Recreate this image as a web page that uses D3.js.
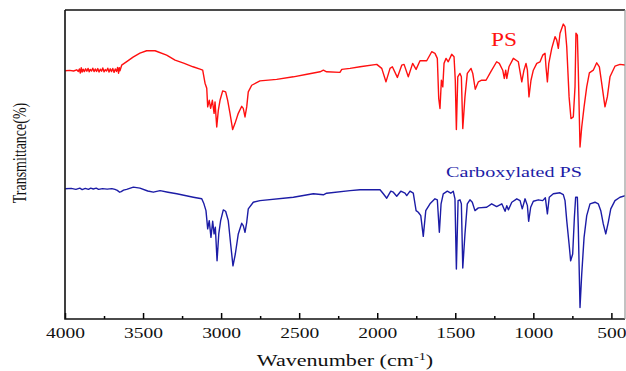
<!DOCTYPE html>
<html>
<head>
<meta charset="utf-8">
<script src="https://cdn.jsdelivr.net/npm/d3@7"></script>
<style>
  body { margin: 0; background: #fff; }
  svg { display: block; }
</style>
</head>
<body>
<div id="ftir-chart"></div>
<script>
// spectra: [wavenumber (cm-1), transmittance (a.u.)]
const psSpectrum = [
  [3998,123.7],[3970,123.9],[3945,123.6],[3925,124.2],[3915,123.4],[3908,124.6],[3902,122.6],[3896,125.2],
  [3890,123.1],[3884,124.5],[3876,123.3],[3868,124.7],[3860,123.5],[3852,124.9],[3845,123.2],[3838,124.4],
  [3830,123.6],[3822,125],[3814,123.3],[3806,124.6],[3798,123.4],[3790,124.8],[3782,123.1],[3774,124.5],
  [3766,123.5],[3758,125.1],[3750,123.2],[3742,124.3],[3734,123.6],[3726,125],[3718,123.1],[3710,124.7],
  [3702,123.3],[3694,124.9],[3686,122.9],[3678,124.6],[3670,123.4],[3663,125.4],[3657,122.5],[3652,125.3],
  [3648,123.7],[3637,126.5],[3600,128.5],[3564,130.5],[3520,132.5],[3477,133.7],[3423,133.7],[3349,131.5],
  [3295,129],[3240,127.5],[3180,125.7],[3135,124.5],[3118,124],[3103,117.5],[3092,115],[3086,105.7],
  [3076,109],[3067,105],[3056,109],[3045,102.5],[3039,108.2],[3028,95.7],[3018,104],[3007,109],
  [2990,113.7],[2971,113.2],[2958,109],[2943,102.5],[2926,94.4],[2911,97.5],[2890,102.5],[2868,106],
  [2858,105],[2847,100.7],[2836,105.7],[2826,113.2],[2804,116.5],[2751,118.7],[2644,119.4],[2537,120.7],
  [2450,122],[2366,123.2],[2345,124],[2324,123.2],[2239,122.9],[2227,124.4],[2174,124.9],[2110,125.7],
  [2003,126.9],[1971,124.9],[1944,118.2],[1918,124.9],[1903,125.7],[1871,120.4],[1843,126.5],[1828,126.9],
  [1801,120.7],[1773,127.4],[1751,124.4],[1726,128.7],[1683,128.7],[1651,133.2],[1630,132.4],[1615,129.9],
  [1606,109.9],[1598,104.9],[1589,119],[1580,115.7],[1572,127.4],[1559,129.9],[1545,128.2],[1523,131.9],
  [1508,130.7],[1500,119],[1493,94.4],[1484,120.7],[1470,122.4],[1461,120.7],[1452,94.9],[1438,110.7],
  [1423,122.4],[1399,124.9],[1388,122.4],[1372,114.5],[1352,118.2],[1331,119],[1303,119],[1273,123.2],
  [1235,128.2],[1218,127.4],[1196,124],[1186,119.9],[1177,124],[1170,119.9],[1156,125.7],[1128,129.9],
  [1096,128.2],[1074,118.2],[1060,124],[1047,127.4],[1038,124],[1028,110.7],[1015,119],[1000,124],
  [978,127.4],[957,128.2],[940,131.5],[925,132.4],[919,125.7],[910,118.2],[901,127.4],[882,134.9],
  [861,140.7],[850,139],[840,134.9],[829,142.4],[808,147],[797,145.7],[786,135.7],[771,110.7],
  [759,99.9],[744,100.7],[733,115.7],[727,142.4],[718,141.5],[712,124],[701,85.7],[690,95.7],
  [675,105.7],[658,115.7],[641,122.7],[616,124],[594,127.7],[577,125.7],[562,117.4],[541,105.7],
  [526,110.7],[509,120.7],[477,126],[445,126.9],[408,126.5]
]

const carboxylatedSpectrum = [
  [3998,64.9],[3960,65.1],[3930,64.6],[3905,65.2],[3890,64.5],[3870,65.1],[3850,64.6],[3835,65.2],
  [3819,64.8],[3800,65.2],[3785,64.6],[3760,65],[3730,64.7],[3700,65],[3680,64.6],[3665,64.1],
  [3650,63.2],[3640,63.5],[3625,64.2],[3605,64.6],[3562,65.7],[3520,65.2],[3470,63.8],[3434,63.2],
  [3391,64],[3340,63.2],[3284,62.4],[3178,60.7],[3124,59.9],
  [3110,57.4],[3097,54],[3086,44.9],[3076,49],[3065,40.7],[3054,48.7],[3045,42.4],[3037,45.7],
  [3026,29],[3015,42.4],[3003,49],[2986,54.4],[2971,53.7],[2954,49],[2939,37.4],[2924,26.5],
  [2909,32.4],[2890,42.4],[2868,47.7],[2858,46.5],[2847,43.2],[2836,48.2],[2826,54.9],[2794,58.2],
  [2751,59],[2537,60.7],[2409,62.4],[2345,61.9],[2324,62.7],[2174,64],[2110,64.4],[1982,64.4],
  [1961,62.4],[1939,60.2],[1913,63.7],[1897,63.2],[1875,61.2],[1849,63.7],[1822,62.7],[1811,61.5],
  [1790,63.7],[1769,62.7],[1751,54],[1737,53.2],[1721,51.5],[1705,41.2],[1689,54],[1662,57.4],
  [1630,59.9],[1615,59.4],[1602,43.2],[1591,57.4],[1577,62.4],[1551,63.7],[1529,62.7],[1513,63.7],
  [1502,59.9],[1493,24.9],[1482,59],[1470,59.4],[1461,57.4],[1452,25.4],[1438,42.4],[1423,57.4],
  [1406,59.4],[1391,58.2],[1374,54],[1352,55.4],[1299,55.7],[1267,57.4],[1235,56],[1202,57.4],
  [1181,53.7],[1170,56.5],[1160,54.4],[1138,58.2],[1106,59.9],[1085,59],[1071,54.9],[1053,59.9],
  [1038,56.5],[1030,48.7],[1017,55.7],[1000,58.7],[968,59.4],[940,59],[923,60.4],[910,52.4],
  [898,60.7],[872,62.4],[829,62.9],[808,62],[797,59],[786,49],[771,37.4],[761,29],
  [748,32.4],[737,50.7],[729,60.7],[718,60.7],[712,45.7],[701,5.7],[690,22.4],[675,40.7],
  [658,51.5],[637,57.4],[605,58.2],[584,57.4],[568,54],[552,47.4],[536,42.4],[520,48.2],
  [504,54.9],[477,59],[445,60.7],[408,61.5]
]

const majorTicks = [4000, 3500, 3000, 2500, 2000, 1500, 1000, 500]
const minorTicks = [3750, 3250, 2750, 2250, 1750, 1250, 750]
const seriesNames = ["PS", "Carboxylated PS"]

const width = 626
const height = 371
const plotLeft = 65, plotRight = 627, plotTop = 10, plotBottom = 319
const frameRight = 625
const stretch = 1.3   // the reference text is drawn wide
const serif = "'Liberation Serif', 'Times New Roman', serif"
const psColor = "#ff1010"
const cpsColor = "#1c1ca6"

const svg = d3.select("#ftir-chart")
  .append("svg")
  .attr("width", width)
  .attr("height", height)

const xScale = d3.scaleLinear()
  .domain([4000, 400])
  .range([plotLeft, plotRight])

const yScale = d3.scaleLinear()
  .domain([0, 154])
  .range([plotBottom, plotTop])

svg.append("clipPath")
  .attr("id", "plot-clip")
  .append("rect")
  .attr("x", plotLeft)
  .attr("y", plotTop)
  .attr("width", frameRight - plotLeft)
  .attr("height", plotBottom - plotTop)

const line = d3.line()
  .x(d => xScale(d[0]))
  .y(d => yScale(d[1]))

svg.append("path")
  .datum(psSpectrum)
  .attr("clip-path", "url(#plot-clip)")
  .attr("fill", "none")
  .attr("stroke", psColor)
  .attr("stroke-width", 1.4)
  .attr("stroke-linejoin", "round")
  .attr("d", line)

svg.append("path")
  .datum(carboxylatedSpectrum)
  .attr("clip-path", "url(#plot-clip)")
  .attr("fill", "none")
  .attr("stroke", cpsColor)
  .attr("stroke-width", 1.4)
  .attr("stroke-linejoin", "round")
  .attr("d", line)

// minor ticks, pointing in
svg.append("g")
  .attr("transform", `translate(0, ${plotBottom})`)
  .call(d3.axisBottom(xScale).tickValues(minorTicks).tickSize(-3).tickFormat(""))
  .call(g => g.select(".domain").remove())
  .call(g => g.selectAll("line").attr("stroke", "#000").attr("stroke-width", 1.5))

const xAxis = svg.append("g")
  .attr("transform", `translate(0, ${plotBottom})`)
  .call(d3.axisBottom(xScale).tickValues(majorTicks).tickSize(-6).tickPadding(8.5).tickFormat(d3.format("d")))
  .call(g => g.select(".domain").remove())

xAxis.selectAll("line").attr("stroke", "#000").attr("stroke-width", 1.5)
xAxis.selectAll("text")
  .attr("fill", "#111")
  .attr("font-family", serif)
  .attr("font-size", 15)
  .attr("transform", `scale(${stretch}, 1)`)

// frame
svg.append("path")
  .attr("d", `M${plotLeft},${plotTop}H${frameRight}M${plotLeft},${plotTop}V${plotBottom}H${frameRight}`)
  .attr("fill", "none")
  .attr("stroke", "#111")
  .attr("stroke-width", 1.6)
svg.append("line")
  .attr("x1", frameRight).attr("x2", frameRight)
  .attr("y1", plotTop).attr("y2", plotBottom)
  .attr("stroke", "#999")
  .attr("stroke-width", 1.2)

// axis titles
const xTitle = svg.append("text")
  .attr("transform", `translate(345, 366) scale(${stretch}, 1)`)
  .attr("text-anchor", "middle")
  .attr("font-family", serif)
  .attr("font-size", 17)
  .attr("fill", "#111")
xTitle.append("tspan").text("Wavenumber (cm")
xTitle.append("tspan").attr("dy", -6).attr("font-size", 11).text("-1")
xTitle.append("tspan").attr("dy", 6).text(")")

svg.append("text")
  .attr("transform", `translate(26, 153) rotate(-90) scale(1, ${stretch})`)
  .attr("text-anchor", "middle")
  .attr("font-family", serif)
  .attr("font-size", 14)
  .attr("fill", "#111")
  .text("Transmittance(%)")

// series labels
svg.append("text")
  .attr("transform", `translate(504, 46) scale(${stretch}, 1)`)
  .attr("text-anchor", "middle")
  .attr("font-family", serif)
  .attr("font-size", 18)
  .attr("fill", psColor)
  .text(seriesNames[0])

svg.append("text")
  .attr("transform", `translate(514, 177) scale(${stretch}, 1)`)
  .attr("text-anchor", "middle")
  .attr("font-family", serif)
  .attr("font-size", 15.5)
  .attr("fill", cpsColor)
  .text(seriesNames[1])
</script>
</body>
</html>
